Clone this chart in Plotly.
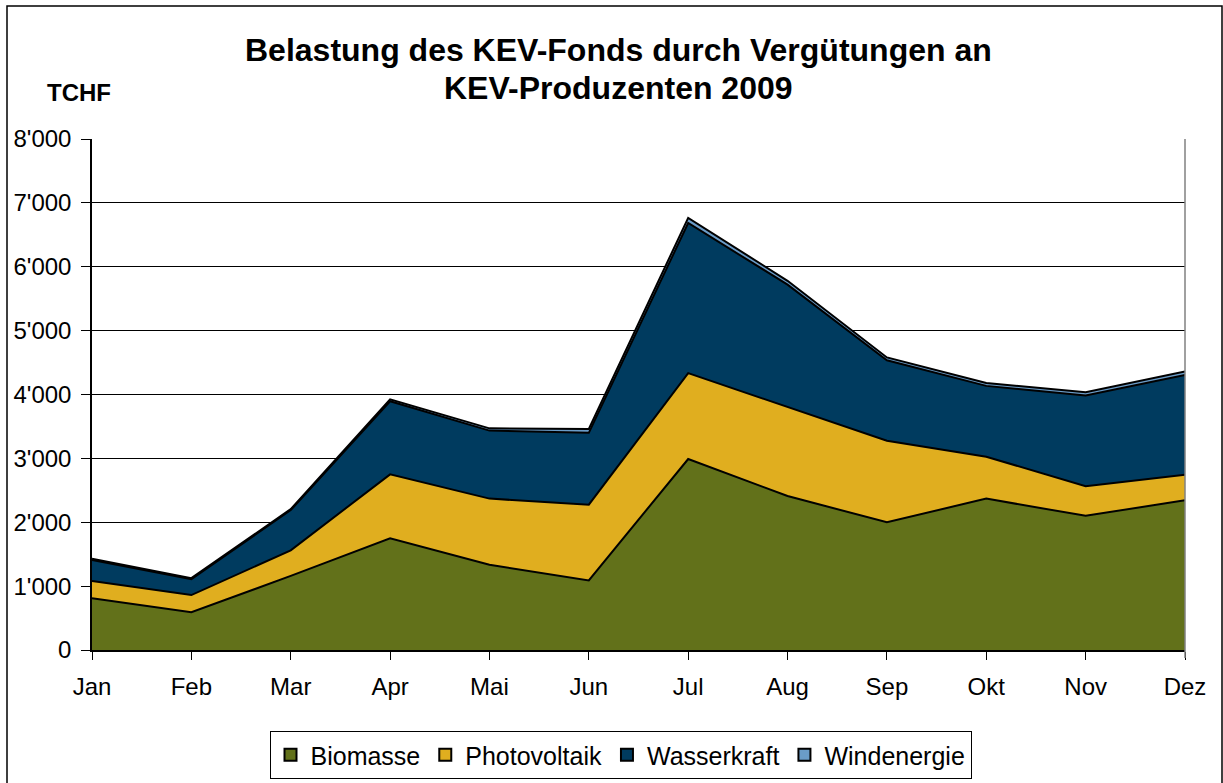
import plotly.graph_objects as go

months = ["Jan", "Feb", "Mar", "Apr", "Mai", "Jun", "Jul", "Aug", "Sep", "Okt", "Nov", "Dez"]
biomasse = [810, 590, 1160, 1750, 1335, 1090, 2990, 2410, 2000, 2370, 2100, 2345]
photovoltaik = [270, 270, 400, 1000, 1035, 1185, 1345, 1390, 1275, 655, 465, 400]
wasserkraft = [330, 250, 630, 1145, 1065, 1125, 2350, 1920, 1260, 1110, 1420, 1560]
windenergie = [20, 15, 15, 30, 35, 60, 80, 60, 45, 45, 50, 55]

series_names = ["Biomasse", "Photovoltaik", "Wasserkraft", "Windenergie"]
series_values = [biomasse, photovoltaik, wasserkraft, windenergie]
colors = ["#62711A", "#E0AE1F", "#003B5F", "#6A9CC8"]

y_tickvals = [0, 1000, 2000, 3000, 4000, 5000, 6000, 7000, 8000]
y_ticktext = ["0", "1'000", "2'000", "3'000", "4'000", "5'000", "6'000", "7'000", "8'000"]

FONT = "Arial, Liberation Sans, sans-serif"

fig = go.Figure()
for name, vals, col in zip(series_names, series_values, colors):
    fig.add_trace(go.Scatter(
        x=months, y=vals, name=name, stackgroup="one", mode="lines",
        line=dict(color="black", width=2), fillcolor=col,
        showlegend=False, hoverinfo="x+y+name"))
# legend entries as square markers
for name, col in zip(series_names, colors):
    fig.add_trace(go.Scatter(
        x=[None], y=[None], name=name, mode="markers",
        marker=dict(symbol="square", size=13, color=col,
                    line=dict(color="black", width=1.2)),
        showlegend=True))

L, R, T, B = 92, 38, 139, 133
W, H = 1223, 783
pw, ph = W - L - R, H - T - B

def px(x):
    return (x - L) / pw

def py(y):
    return (H - B - y) / ph

fig.update_layout(
    width=W, height=H,
    margin=dict(l=L, r=R, t=T, b=B, autoexpand=False),
    paper_bgcolor="white", plot_bgcolor="white",
    font=dict(family=FONT, color="black", size=24),
    showlegend=True,
    legend=dict(orientation="h", x=px(620.5), xanchor="center",
                y=py(731), yanchor="top", traceorder="normal",
                bordercolor="black", borderwidth=1,
                font=dict(family=FONT, size=25, color="black"),
                itemsizing="constant", tracegroupgap=0),
    xaxis=dict(type="category", range=[0, 11], showgrid=False,
               showline=True, linecolor="black", linewidth=1.5,
               ticks="outside", ticklen=8, tickcolor="black", tickwidth=1,
               tickfont=dict(family=FONT, size=24, color="black"),
               ticklabelstandoff=6, zeroline=False, fixedrange=True),
    yaxis=dict(range=[0, 8000], tickvals=y_tickvals, ticktext=y_ticktext,
               showgrid=True, gridcolor="black", gridwidth=1,
               showline=True, linecolor="black", linewidth=1.5,
               ticks="outside", ticklen=9, tickcolor="black", tickwidth=1,
               tickfont=dict(family=FONT, size=24, color="black"),
               ticklabelstandoff=5, zeroline=False, fixedrange=True),
    annotations=[
        dict(text="<b>Belastung des KEV-Fonds durch Vergütungen an</b>",
             xref="paper", yref="paper", x=px(618), y=py(62),
             xanchor="center", yanchor="bottom", showarrow=False,
             font=dict(family=FONT, size=32, color="black"), yshift=-8),
        dict(text="<b>KEV-Produzenten 2009</b>",
             xref="paper", yref="paper", x=px(618), y=py(100),
             xanchor="center", yanchor="bottom", showarrow=False,
             font=dict(family=FONT, size=32, color="black"), yshift=-8),
        dict(text="<b>TCHF</b>",
             xref="paper", yref="paper", x=px(79), y=py(102),
             xanchor="center", yanchor="bottom", showarrow=False,
             font=dict(family=FONT, size=24, color="black"), yshift=-6),
    ],
    shapes=[
        dict(type="rect", xref="paper", yref="paper",
             x0=px(7), x1=px(1222), y0=py(6), y1=py(800),
             line=dict(color="black", width=1.5), fillcolor="rgba(0,0,0,0)",
             layer="above"),
        dict(type="line", xref="paper", yref="paper",
             x0=1, x1=1, y0=py(658), y1=1,
             line=dict(color="#808080", width=1.5), layer="above"),
    ],
)

fig.write_html("out.html", config={"displayModeBar": False},
               post_script="document.body.style.margin='0';")
